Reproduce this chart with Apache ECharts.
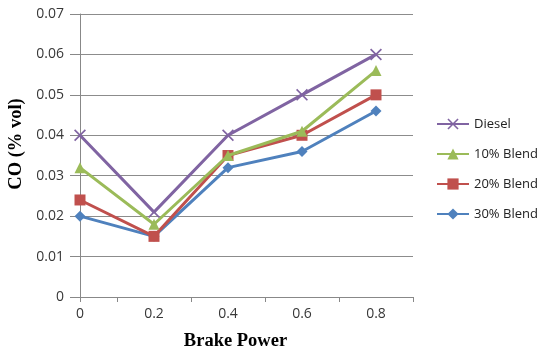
<!DOCTYPE html>
<html><head><meta charset="utf-8">
<script src="https://cdn.jsdelivr.net/npm/echarts@6/dist/echarts.min.js"></script>
<style>html,body{margin:0;padding:0;background:#fff}#c{width:539px;height:350px}</style>
</head><body><div id="c"></div>
<script>
const brakePower = [0, 0.2, 0.4, 0.6, 0.8];
const diesel = [0.040, 0.021, 0.040, 0.050, 0.060];
const blend10 = [0.032, 0.018, 0.035, 0.041, 0.056];
const blend20 = [0.024, 0.015, 0.035, 0.040, 0.050];
const blend30 = [0.020, 0.015, 0.032, 0.036, 0.046];
const seriesNames = ['Diesel', '10% Blend', '20% Blend', '30% Blend'];
const xTickLabels = [0, 0.2, 0.4, 0.6, 0.8];
const xTickMarks = [0, 0.1, 0.3, 0.5, 0.7, 0.9];

const pair = arr => brakePower.map((x, i) => [x, arr[i]]);
const crossPath = 'path://M0,1L1,0L5,4L9,0L10,1L6,5L10,9L9,10L5,6L1,10L0,9L4,5Z';
const tickFont = {fontFamily: 'Open Sans', fontSize: 14, color: '#383838'};
const titleFont = {fontFamily: 'Liberation Serif', fontWeight: 'bold', fontSize: 18.5, color: '#000'};

const chart = echarts.init(document.getElementById('c'), null, {renderer: 'canvas'});
chart.setOption({
  animation: false,
  grid: {left: 80, right: 126, top: 14, bottom: 53, outerBoundsMode: 'none', containLabel: false},
  legend: {
    orient: 'vertical', left: 436, top: 117, padding: 0, itemGap: 16, itemWidth: 32, itemHeight: 14,
    textStyle: {fontFamily: 'Open Sans', fontSize: 13, lineHeight: 14, color: '#222'},
    data: seriesNames
  },
  xAxis: {
    type: 'value', min: 0, max: 0.9,
    name: 'Brake Power', nameLocation: 'middle', nameGap: 35,
    nameTextStyle: Object.assign({padding: [0, 22, 0, 0]}, titleFont),
    axisLine: {show: true, lineStyle: {color: '#888', width: 1}},
    axisTick: {show: true, length: 5, customValues: xTickMarks, lineStyle: {color: '#888'}},
    axisLabel: Object.assign({customValues: xTickLabels, margin: 10, formatter: v => String(+v.toFixed(1))}, tickFont),
    splitLine: {show: false}
  },
  yAxis: {
    type: 'value', min: 0, max: 0.07, interval: 0.01,
    name: 'CO (% vol)', nameLocation: 'middle', nameGap: 52, nameRotate: 90,
    nameTextStyle: Object.assign({padding: [0, 0, 0, 23]}, titleFont),
    axisLine: {show: true, lineStyle: {color: '#888', width: 1}},
    axisTick: {show: true, length: 10, lineStyle: {color: '#888'}},
    axisLabel: Object.assign({margin: 16, formatter: v => v === 0 ? '0' : v.toFixed(2)}, tickFont),
    splitLine: {show: true, lineStyle: {color: '#8c8c8c', width: 1}}
  },
  series: [
    {name: seriesNames[0], type: 'line', data: pair(diesel), z: 5, symbol: crossPath, symbolSize: 12,
     lineStyle: {color: '#8064A2', width: 3}, itemStyle: {color: '#8064A2'}},
    {name: seriesNames[1], type: 'line', data: pair(blend10), z: 4, symbol: 'triangle', symbolSize: 11,
     lineStyle: {color: '#9BBB59', width: 3}, itemStyle: {color: '#9BBB59'}},
    {name: seriesNames[2], type: 'line', data: pair(blend20), z: 3, symbol: 'rect', symbolSize: 11,
     lineStyle: {color: '#C0504D', width: 3}, itemStyle: {color: '#C0504D'}},
    {name: seriesNames[3], type: 'line', data: pair(blend30), z: 2, symbol: 'diamond', symbolSize: 11,
     lineStyle: {color: '#4F81BD', width: 3}, itemStyle: {color: '#4F81BD'}}
  ]
});
</script></body></html>
